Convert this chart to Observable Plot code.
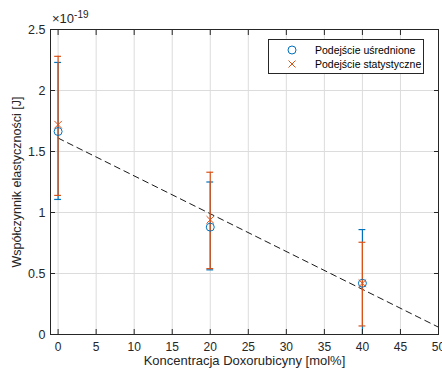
<!DOCTYPE html>
<html><head><meta charset="utf-8">
<script src="https://cdn.jsdelivr.net/npm/d3@7"></script>
<script src="https://cdn.jsdelivr.net/npm/@observablehq/plot@0.6"></script>
<style>
body{margin:0;background:#fff;font-family:"Liberation Sans",Arial,sans-serif;}
#wrap{position:relative;width:442px;height:372px;}
#exp{position:absolute;left:52px;top:9px;font-size:13px;color:#262626;}
#exp sup{font-size:10px;}
#legend{position:absolute;left:268px;top:39px;width:154px;height:33px;border:1px solid #262626;background:#fff;font-size:10.5px;color:#000;}
#legend .row{position:absolute;left:0;height:14px;display:flex;align-items:center;}
#legend svg{position:absolute;left:17px;}
#legend span{position:absolute;left:46px;white-space:nowrap;}
</style></head>
<body><div id="wrap"></div>
<script>
const concentrations = [0, 20, 40];
const meanValues = [1.664, 0.88, 0.42];
const meanLow = [1.107, 0.53, -0.03];
const meanHigh = [2.23, 1.25, 0.86];
const statValues = [1.72, 0.94, 0.42];
const statLow = [1.14, 0.54, 0.07];
const statHigh = [2.28, 1.33, 0.756];
const fitX = [0, 50];
const fitY = [1.61, 0.06];
const xTicks = [0, 5, 10, 15, 20, 25, 30, 35, 40, 45, 50];
const yTicks = [0, 0.5, 1, 1.5, 2, 2.5];

const blue = "#0072BD", orange = "#D95319", ink = "#262626";
const mean = concentrations.map((c, i) => ({x: c, y: meanValues[i], lo: meanLow[i], hi: meanHigh[i]}));
const stat = concentrations.map((c, i) => ({x: c, y: statValues[i], lo: statLow[i], hi: statHigh[i]}));
const fit = fitX.map((x, i) => ({x, y: fitY[i]}));
const cap = 0.45;

const chart = Plot.plot({
  width: 442, height: 372,
  marginLeft: 50, marginRight: 4, marginTop: 29, marginBottom: 38,
  style: {fontFamily: "'Liberation Sans', Arial, sans-serif", fontSize: "12px", color: ink, background: "white"},
  x: {domain: [-1, 50]},
  y: {domain: [0, 2.5]},
  marks: [
    Plot.gridX(xTicks, {stroke: "#dcdcdc", strokeOpacity: 1}),
    Plot.gridY(yTicks, {stroke: "#dcdcdc", strokeOpacity: 1}),
    Plot.line(fit, {x: "x", y: "y", stroke: "black", strokeWidth: 0.9, strokeDasharray: "6,4.5"}),
    Plot.ruleX(mean, {x: "x", y1: "lo", y2: "hi", stroke: blue, strokeWidth: 1.2, clip: true}),
    Plot.ruleY(mean, {y: "hi", x1: d => d.x - cap, x2: d => d.x + cap, stroke: blue, strokeWidth: 1.2}),
    Plot.ruleY(mean.filter(d => d.lo >= 0), {y: "lo", x1: d => d.x - cap, x2: d => d.x + cap, stroke: blue, strokeWidth: 1.2}),
    Plot.ruleX(stat, {x: "x", y1: "lo", y2: "hi", stroke: orange, strokeWidth: 1.2, clip: true}),
    Plot.ruleY(stat, {y: "hi", x1: d => d.x - cap, x2: d => d.x + cap, stroke: orange, strokeWidth: 1.2}),
    Plot.ruleY(stat, {y: "lo", x1: d => d.x - cap, x2: d => d.x + cap, stroke: orange, strokeWidth: 1.2}),
    Plot.dot(mean, {x: "x", y: "y", r: 4, stroke: blue, fill: "none", strokeWidth: 1}),
    Plot.dot(stat, {x: "x", y: "y", r: 3.5, symbol: "times", stroke: orange, strokeWidth: 1}),
    Plot.frame({stroke: ink, strokeWidth: 1}),
    Plot.axisX(xTicks, {anchor: "bottom", tickSize: -5, tickPadding: 13, tickFormat: d => String(d), label: null, fontSize: 12, color: ink}),
    Plot.text(["Koncentracja Doxorubicyny [mol%]"], {frameAnchor: "bottom", dy: 30, fontSize: 13, fill: ink, text: d => d}),
    Plot.axisX(xTicks, {anchor: "top", tickSize: -5, tickFormat: () => "", label: null, color: ink}),
    Plot.axisY(yTicks, {anchor: "left", tickSize: -5, tickPadding: 10, tickFormat: d => String(d), label: "Współczynnik elastyczności [J]", labelAnchor: "center", labelArrow: "none", labelOffset: 38, fontSize: 12.5, color: ink}),
    Plot.axisY(yTicks, {anchor: "right", tickSize: -5, tickFormat: () => "", label: null, color: ink})
  ]
});
const wrap = document.getElementById("wrap");
wrap.appendChild(chart);
const exp = document.createElement("div");
exp.id = "exp";
exp.innerHTML = "×10<sup>-19</sup>";
wrap.appendChild(exp);
const lg = document.createElement("div");
lg.id = "legend";
lg.innerHTML = `
<div class="row" style="top:3px;width:100%"><svg width="12" height="12" viewBox="-6 -6 12 12"><circle r="4" fill="none" stroke="${blue}" stroke-width="1"/></svg><span>Podejście uśrednione</span></div>
<div class="row" style="top:17px;width:100%"><svg width="12" height="12" viewBox="-6 -6 12 12"><path d="M-3.5,-3.5L3.5,3.5M-3.5,3.5L3.5,-3.5" stroke="${orange}" stroke-width="1"/></svg><span>Podejście statystyczne</span></div>`;
wrap.appendChild(lg);
</script></body></html>
